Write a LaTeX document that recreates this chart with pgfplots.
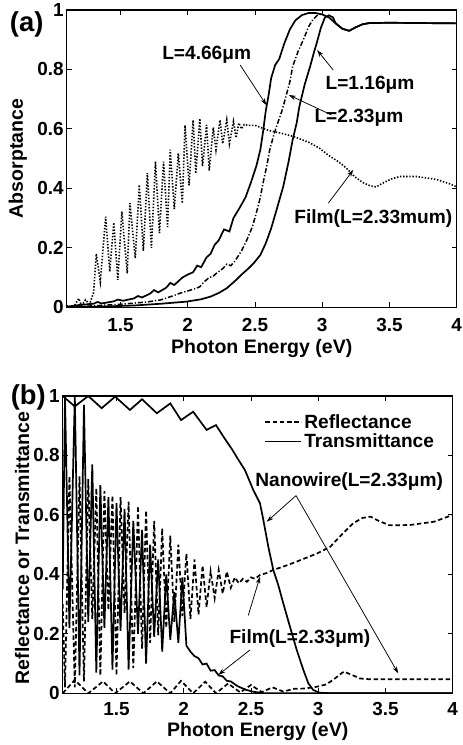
\documentclass[border=0pt]{standalone}
\usepackage{fontspec}
\setmainfont{Liberation Sans}
\usepackage{pgfplots}
\pgfplotsset{compat=1.18}
\usetikzlibrary{arrows.meta}

\newcommand{\tfont}{\fontsize{19}{20}\selectfont\bfseries}
\newcommand{\lfont}{\fontsize{19.6}{21}\selectfont\bfseries}
\newcommand{\afont}{\fontsize{19.2}{21}\selectfont\bfseries}

\tikzset{
  curve/.style={black, line width=1.7bp},
  annot/.style={-{Stealth[length=7bp,width=4.5bp]}, line width=0.75bp},
}
\pgfplotsset{
  myaxis/.style={
    scale only axis, width=390bp, height=297.3bp,
    xmin=1.1, xmax=4, ymin=0, ymax=1,
    xtick={1.5,2,2.5,3,3.5,4}, ytick={0,0.2,0.4,0.6,0.8,1},
    tick align=inside, major tick length=5bp,
    axis line style={line width=1.2bp},
    every tick/.style={black, line width=0.9bp},
    /pgf/number format/assume math mode=true,
    tick label style={font=\tfont},
    yticklabel style={xshift=0.5bp},
    label style={font=\lfont},
    xlabel={Photon Energy (eV)},
  },
}

\begin{document}
\begin{tikzpicture}
\path[use as bounding box] (0,0) rectangle (463bp,745bp);

% ---------------- panel (a)
\begin{axis}[myaxis, at={(66.7bp,437.7bp)}, anchor=south west,
  ylabel={Absorptance},
  ylabel style={at={(axis description cs:-0.125,0.5)}, anchor=center},
  xticklabel style={anchor=base, yshift=-24bp},
  xlabel style={at={(axis description cs:0.5,0)}, anchor=base, yshift=-46bp},
]
% L = 4.66 um
\addplot[curve] coordinates {
(1.10,0.002) (1.20,0.008) (1.30,0.012) (1.33,0.018) (1.36,0.013) (1.45,0.020) (1.48,0.026) (1.52,0.022)
(1.60,0.030) (1.63,0.038) (1.66,0.033) (1.72,0.046) (1.75,0.058) (1.78,0.050) (1.84,0.066) (1.87,0.082)
(1.90,0.075) (1.96,0.100) (2.00,0.110) (2.04,0.118) (2.07,0.140) (2.10,0.135) (2.14,0.168) (2.17,0.180)
(2.20,0.210) (2.23,0.225) (2.27,0.262) (2.31,0.255) (2.34,0.300) (2.38,0.330) (2.43,0.370) (2.47,0.420)
(2.51,0.475) (2.54,0.530) (2.56,0.590) (2.58,0.660) (2.60,0.710) (2.62,0.770) (2.65,0.815) (2.68,0.835)
(2.72,0.890) (2.76,0.935) (2.80,0.965) (2.85,0.983) (2.90,0.990) (2.95,0.990) (3.00,0.985) (3.05,0.975)
(3.10,0.955) (3.15,0.937) (3.20,0.930) (3.25,0.942) (3.30,0.952) (3.35,0.956) (3.50,0.957) (4.00,0.955)
};
% L = 2.33 um
\addplot[black, line width=1.5bp, dash pattern=on 5bp off 2bp on 1.2bp off 2bp] coordinates {
(1.10,0.000) (1.30,0.005) (1.50,0.010) (1.70,0.018) (1.80,0.025) (1.90,0.040) (1.94,0.047) (2.00,0.055)
(2.05,0.062) (2.09,0.069) (2.12,0.085) (2.16,0.100) (2.19,0.105) (2.22,0.117) (2.26,0.130) (2.29,0.145)
(2.32,0.140) (2.35,0.155) (2.40,0.190) (2.44,0.227) (2.48,0.270) (2.51,0.317) (2.54,0.370) (2.56,0.418)
(2.59,0.480) (2.61,0.530) (2.64,0.580) (2.66,0.608) (2.70,0.660) (2.73,0.709) (2.76,0.760) (2.78,0.810)
(2.82,0.860) (2.86,0.900) (2.90,0.945) (2.93,0.967) (2.97,0.985) (3.00,0.985)
};
% L = 1.16 um
\addplot[curve] coordinates {
(1.10,0.000) (1.40,0.003) (1.60,0.006) (1.80,0.012) (1.99,0.019) (2.10,0.027) (2.17,0.036) (2.23,0.048)
(2.29,0.064) (2.33,0.080) (2.36,0.092) (2.40,0.110) (2.45,0.130) (2.49,0.148) (2.54,0.176) (2.58,0.215)
(2.62,0.265) (2.66,0.327) (2.71,0.406) (2.75,0.490) (2.78,0.563) (2.81,0.620) (2.83,0.675) (2.87,0.750)
(2.91,0.810) (2.94,0.860) (2.96,0.890) (2.99,0.940) (3.02,0.975) (3.05,0.982) (3.08,0.975) (3.10,0.955)
(3.15,0.937) (3.20,0.930) (3.25,0.942) (3.30,0.952) (3.35,0.956) (3.50,0.957) (4.00,0.955)
};
% Film
\addplot[black, line width=1.6bp, dash pattern=on 1.4bp off 1.7bp] coordinates {
(1.10,0.005) (1.15,0.000) (1.19,0.030) (1.21,0.005) (1.24,0.025) (1.27,0.010) (1.30,0.050) (1.32,0.180)
(1.35,0.086) (1.39,0.305) (1.42,0.120) (1.45,0.285) (1.48,0.092) (1.51,0.322) (1.55,0.114) (1.57,0.350)
(1.61,0.165) (1.64,0.412) (1.67,0.190) (1.70,0.451) (1.73,0.200) (1.76,0.490) (1.79,0.250) (1.82,0.490)
(1.85,0.270) (1.87,0.530) (1.90,0.330) (1.93,0.518) (1.96,0.350) (1.98,0.613) (2.01,0.410) (2.04,0.630)
(2.06,0.450) (2.09,0.635) (2.11,0.475) (2.14,0.613) (2.16,0.460) (2.19,0.605) (2.21,0.530) (2.24,0.630)
(2.26,0.550) (2.29,0.630) (2.31,0.550) (2.34,0.625) (2.36,0.570) (2.38,0.620) (2.40,0.600) (2.42,0.615)
(2.45,0.612) (2.50,0.612) (2.60,0.595) (2.70,0.585) (2.79,0.574) (2.90,0.555) (2.98,0.535) (3.05,0.510)
(3.12,0.490) (3.18,0.468) (3.24,0.440) (3.30,0.420) (3.36,0.408) (3.40,0.405) (3.46,0.420) (3.52,0.433)
(3.58,0.440) (3.70,0.440) (3.85,0.430) (3.95,0.415) (4.00,0.405)
};
\node[font=\afont] at (axis cs:2.141,0.849) {L=4.66μm};
\draw[annot] (axis cs:2.39,0.815) -- (axis cs:2.585,0.68);
\node[font=\afont] at (axis cs:3.355,0.748) {L=1.16μm};
\draw[annot] (axis cs:3.082,0.798) -- (axis cs:2.962,0.865);
\node[font=\afont] at (axis cs:3.273,0.637) {L=2.33μm};
\draw[annot] (axis cs:3.069,0.647) -- (axis cs:2.752,0.714);
\node[font=\afont] at (axis cs:3.38,0.299) {Film(L=2.33mum)};
\draw[annot] (axis cs:3.045,0.35) -- (axis cs:3.231,0.462);
\end{axis}
\node[font=\fontsize{27.5}{30}\selectfont\bfseries] at (26.7bp,721bp) {(a)};

% ---------------- panel (b)
\begin{axis}[myaxis, at={(62.7bp,51.7bp)}, anchor=south west,
  ylabel={Reflectance or Transmittance},
  ylabel style={at={(axis description cs:-0.104,0.489)}, anchor=center},
  xticklabel style={anchor=base, yshift=-22bp},
  xlabel style={at={(axis description cs:0.5,0)}, anchor=base, yshift=-43.4bp},
  legend style={at={(axis cs:2.6,0.945)}, anchor=north west, draw=none, fill=none,
    font=\afont, inner sep=0pt, row sep=0pt, cells={anchor=west}},
  legend image code/.code={\draw[#1] (0bp,0bp) -- (36bp,0bp);},
]
% Nanowire reflectance
\addplot[curve, dash pattern=on 4.5bp off 2.7bp] coordinates {
(1.10,0.000) (1.19,0.045) (1.29,0.000) (1.40,0.040) (1.49,0.000) (1.60,0.040) (1.70,0.000) (1.80,0.040)
(1.90,0.000) (1.98,0.042) (2.07,0.000) (2.16,0.039) (2.24,0.000) (2.33,0.033) (2.42,0.003) (2.50,0.028)
(2.58,0.004) (2.66,0.020) (2.74,0.006) (2.82,0.015) (2.90,0.016) (2.99,0.022) (3.06,0.030) (3.11,0.045)
(3.19,0.073) (3.25,0.062) (3.31,0.050) (3.39,0.047) (4.00,0.047)
};
\addlegendentry{Reflectance}
% Nanowire transmittance
\addplot[curve] coordinates {
(1.10,1.000) (1.19,0.965) (1.29,1.000) (1.39,0.959) (1.49,0.998) (1.60,0.953) (1.69,0.989) (1.80,0.942)
(1.90,0.975) (1.98,0.919) (2.07,0.947) (2.17,0.886) (2.24,0.902) (2.30,0.860) (2.36,0.820) (2.40,0.790)
(2.455,0.751) (2.517,0.684) (2.567,0.639) (2.592,0.583) (2.629,0.493) (2.666,0.415) (2.703,0.364)
(2.740,0.303) (2.79,0.224) (2.84,0.146) (2.89,0.078) (2.926,0.034) (2.963,0.011) (3.01,0.002) (3.10,0.000)
(4.00,0.000)
};
\addlegendentry{Transmittance}
% Film reflectance
\addplot[curve, dash pattern=on 4.5bp off 2.7bp, forget plot] coordinates {
(1.10,0.300) (1.117,0.020) (1.15,0.730) (1.19,0.020) (1.225,0.730) (1.258,0.040) (1.29,0.720) (1.32,0.250)
(1.35,0.690) (1.38,0.060) (1.41,0.680) (1.44,0.280) (1.47,0.665) (1.50,0.060) (1.53,0.660) (1.56,0.270)
(1.59,0.645) (1.625,0.085) (1.66,0.630) (1.69,0.150) (1.72,0.615) (1.75,0.170) (1.78,0.580) (1.81,0.195)
(1.84,0.555) (1.87,0.220) (1.90,0.530) (1.93,0.240) (1.96,0.500) (1.99,0.260) (2.02,0.470) (2.05,0.250)
(2.08,0.450) (2.11,0.265) (2.14,0.430) (2.17,0.290) (2.20,0.410) (2.23,0.320) (2.26,0.415) (2.29,0.335)
(2.32,0.410) (2.35,0.355) (2.38,0.390) (2.41,0.370) (2.44,0.385) (2.47,0.375) (2.50,0.390) (2.53,0.385)
(2.567,0.398) (2.62,0.405) (2.666,0.415) (2.74,0.426) (2.84,0.443) (2.99,0.470) (3.09,0.493) (3.16,0.527)
(3.26,0.572) (3.33,0.590) (3.39,0.594) (3.45,0.580) (3.53,0.565) (3.68,0.566) (3.86,0.577) (4.00,0.600)
};
% Film transmittance
\addplot[curve, forget plot] coordinates {
(1.10,0.350) (1.117,1.000) (1.15,0.220) (1.19,1.000) (1.225,0.060) (1.258,0.970) (1.29,0.240) (1.32,0.770)
(1.35,0.070) (1.38,0.700) (1.41,0.220) (1.44,0.660) (1.47,0.080) (1.50,0.640) (1.53,0.210) (1.56,0.620)
(1.59,0.080) (1.625,0.580) (1.66,0.200) (1.69,0.550) (1.72,0.100) (1.75,0.500) (1.78,0.190) (1.81,0.450)
(1.84,0.140) (1.87,0.400) (1.90,0.180) (1.93,0.340) (1.96,0.170) (1.99,0.390) (2.02,0.160) (2.05,0.140)
(2.08,0.125) (2.11,0.118) (2.14,0.097) (2.17,0.100) (2.20,0.076) (2.23,0.078) (2.26,0.060) (2.29,0.057)
(2.32,0.042) (2.35,0.040) (2.40,0.024) (2.46,0.012) (2.52,0.005) (2.60,0.000) (4.00,0.000)
};
\node[font=\afont] at (axis cs:3.23,0.712) {Nanowire(L=2.33μm)};
\draw[annot] (axis cs:2.835,0.665) -- (axis cs:2.617,0.577);
\draw[annot] (axis cs:2.835,0.665) -- (axis cs:3.595,0.067);
\node[font=\afont] at (axis cs:2.864,0.185) {Film(L=2.33μm)};
\draw[annot] (axis cs:2.48,0.262) -- (axis cs:2.567,0.392);
\draw[annot] (axis cs:2.493,0.146) -- (axis cs:2.257,0.062);
\end{axis}
\node[font=\fontsize{27.5}{30}\selectfont\bfseries] at (28.3bp,348bp) {(b)};
\end{tikzpicture}
\end{document}
